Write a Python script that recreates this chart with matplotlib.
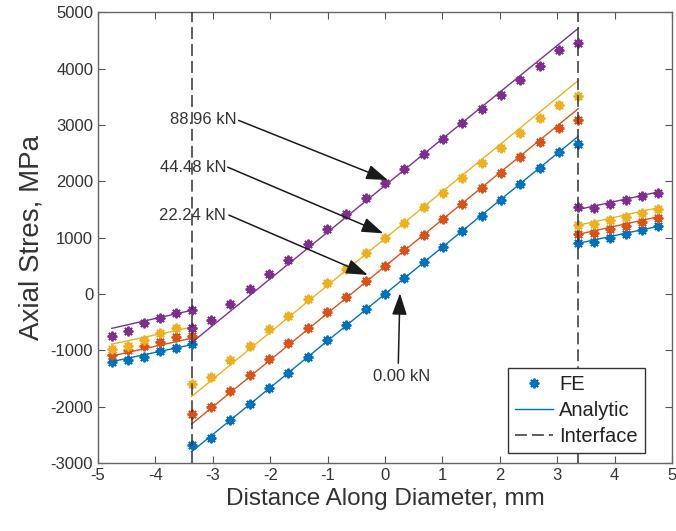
import numpy as np
import matplotlib.pyplot as plt
from matplotlib.lines import Line2D

plt.rcParams['font.family'] = ['Liberation Sans', 'DejaVu Sans']
plt.rcParams['axes.unicode_minus'] = False

# Geometry (mm): interface radius and outer radius
r_in = 3.37
r_out = 4.76

loads = ['0.00 kN', '22.24 kN', '44.48 kN', '88.96 kN']
colors = ['#0072BD', '#D95319', '#EDB120', '#7E2F8E']

# Analytic solution, stress at the ends of each segment (MPa)
ana_left = [[-1200, -900], [-1100, -785], [-890, -590], [-610, -290]]
ana_mid = [[-2800, 2800], [-2310, 3290], [-1820, 3790], [-865, 4715]]
ana_right = [[900, 1200], [1060, 1370], [1220, 1530], [1500, 1810]]

# FE nodal stresses (MPa)
fe_left = [
    [-1210, -1180, -1110, -1020, -960, -890],
    [-1080, -1000, -920, -850, -770, -740],
    [-980, -920, -810, -700, -610, -600],
    [-740, -660, -510, -430, -330, -285],
]
fe_mid = [
    [-2680, -2550, -2235, -1950, -1670, -1395, -1110, -820, -550, -270, 5,
     290, 565, 840, 1120, 1390, 1670, 1950, 2230, 2520, 2670],
    [-2130, -2000, -1720, -1440, -1160, -875, -600, -320, -45, 230, 505,
     780, 1055, 1330, 1605, 1875, 2150, 2430, 2700, 2940, 3085],
    [-1596, -1466, -1170, -920, -630, -390, -90, 190, 450, 730, 995,
     1255, 1545, 1800, 2065, 2320, 2595, 2850, 3115, 3350, 3510],
    [-600, -461, -177, 83, 349, 603, 881, 1152, 1413, 1708, 1963,
     2211, 2477, 2750, 3027, 3280, 3528, 3794, 4043, 4326, 4445],
]
fe_right = [
    [900, 920, 985, 1060, 1130, 1200],
    [1060, 1080, 1150, 1210, 1280, 1350],
    [1220, 1250, 1310, 1370, 1430, 1510],
    [1550, 1530, 1600, 1670, 1740, 1790],
]

# Load labels: text anchor, arrow tail, arrow head
label_xy = [(0.285, -1466), (-2.77, 1400), (-2.77, 2250), (-2.58, 3090)]
arrow_tail = [(0.232, -1229), (-2.72, 1400), (-2.74, 2250), (-2.55, 3080)]
arrow_head = [(0.261, 12), (-0.30, 337), (-0.03, 1076), (0.05, 2021)]

fig = plt.figure(figsize=(6.76, 5.31), dpi=100)
ax = fig.add_axes([0.145, 0.128, 0.849, 0.849])

x_left = np.linspace(-r_out, -r_in, 6)
x_mid = np.linspace(-r_in, r_in, 21)
x_right = np.linspace(r_in, r_out, 6)

star = (8, 2, 0)  # asterisk like MATLAB '*'

for i in range(len(loads)):
    c = colors[i]
    ax.plot([-r_out, -r_in], ana_left[i], color=c, lw=1.0)
    ax.plot([-r_in, r_in], ana_mid[i], color=c, lw=1.0)
    ax.plot([r_in, r_out], ana_right[i], color=c, lw=1.0)
    xs = np.concatenate([x_left, x_mid, x_right])
    ys = np.concatenate([fe_left[i], fe_mid[i], fe_right[i]])
    ax.plot(xs, ys, ls='none', marker=star, ms=7, mew=1.4, color=c)

for xv in (-r_in, r_in):
    ax.axvline(xv, color='#333333', lw=1.1, ls=(0, (7.8, 3.3)), zorder=3)

# Load annotations
arrow_kw = dict(arrowstyle='-|>,head_length=1.1,head_width=0.38',
                color='#1a1a1a', lw=1.1, shrinkA=0, shrinkB=0,
                mutation_scale=12)
for i, lab in enumerate(loads):
    ha = 'center' if i == 0 else 'right'
    ax.text(*label_xy[i], lab, ha=ha, va='center', fontsize=12,
            color='#333333')
    ax.annotate('', xy=arrow_head[i], xytext=arrow_tail[i],
                arrowprops=arrow_kw)

ax.set_xlim(-5, 5)
ax.set_ylim(-3000, 5000)
ax.set_xticks(np.arange(-5, 6, 1))
ax.set_yticks(np.arange(-3000, 5001, 1000))
ax.tick_params(direction='in', top=True, right=True, length=5,
               labelsize=12, color='#555555', labelcolor='#333333')
for s in ax.spines.values():
    s.set_color('#666666')
    s.set_linewidth(1.0)

ax.set_xlabel('Distance Along Diameter, mm', fontsize=17.5, color='#333333')
ax.set_ylabel('Axial Stres, MPa', fontsize=20, color='#333333')

handles = [
    Line2D([], [], color=colors[0], marker=star, ls='none', ms=7, mew=1.4),
    Line2D([], [], color=colors[0], lw=1.0),
    Line2D([], [], color='#333333', lw=1.1, ls=(0, (7.8, 3.3))),
]
leg = ax.legend(handles, ['FE', 'Analytic', 'Interface'], loc='lower right',
                bbox_to_anchor=(0.953, 0.022), fontsize=14.5, fancybox=False,
                framealpha=1, edgecolor='#333333', handlelength=1.9,
                labelspacing=0.35, borderpad=0.35, handletextpad=0.3,
                borderaxespad=0)
leg.get_frame().set_linewidth(1.0)
for t in leg.get_texts():
    t.set_color('#222222')

fig.savefig('out.png', dpi=100)
